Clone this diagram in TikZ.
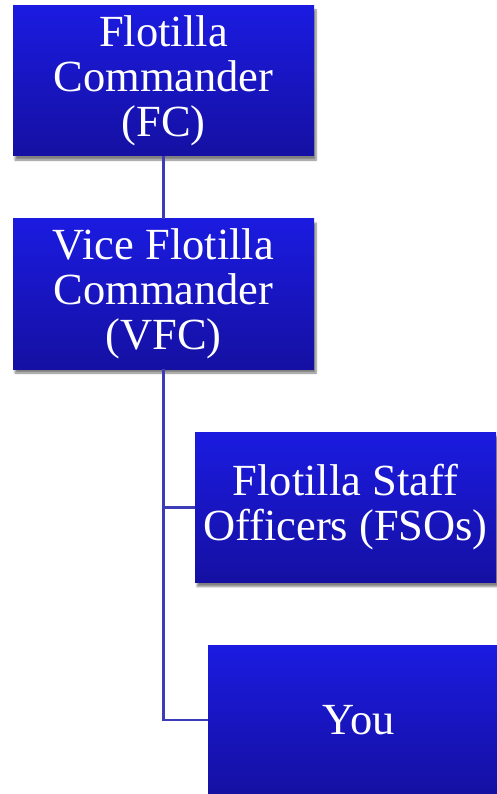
\documentclass[tikz,border=0pt]{standalone}
\usepackage{fontspec}
\setmainfont{Liberation Serif}
\usetikzlibrary{shadows.blur}
\definecolor{boxtop}{HTML}{1B1BE0}
\definecolor{boxbot}{HTML}{1510A2}
\definecolor{linec}{HTML}{3C3CB8}
\begin{document}
\begin{tikzpicture}[x=1pt,y=-1pt,
  orgbox/.style={rectangle, minimum width=301pt, minimum height=150pt, inner sep=0pt,
    top color=boxtop, bottom color=boxbot, draw=none, text=white, align=center,
    font=\fontsize{44.5pt}{45pt}\selectfont,
    blur shadow={shadow xshift=2pt, shadow yshift=-4pt, shadow blur steps=6, shadow opacity=50}},
  conn/.style={draw=linec, line width=2.2pt}]
\useasboundingbox (0,0) rectangle (497,794);
\node[orgbox] (fc) at (163.5,81) {\raisebox{-2pt}{\parbox{300pt}{\centering Flotilla\\Commander\\(FC)}}};
\node[orgbox] (vfc) at (163.5,294) {\raisebox{-2pt}{\parbox{300pt}{\centering Vice Flotilla\\Commander\\(VFC)}}};
\node[orgbox] (fso) at (345.5,507.5) {Flotilla Staff\\Officers (FSOs)};
\node[orgbox] (you) at (358.5,720) {You};
\draw[conn] (fc.south) -- (vfc.north);
\draw[conn] (vfc.south) |- (fso.west);
\draw[conn] (vfc.south) |- (you.west);
\end{tikzpicture}
\end{document}
